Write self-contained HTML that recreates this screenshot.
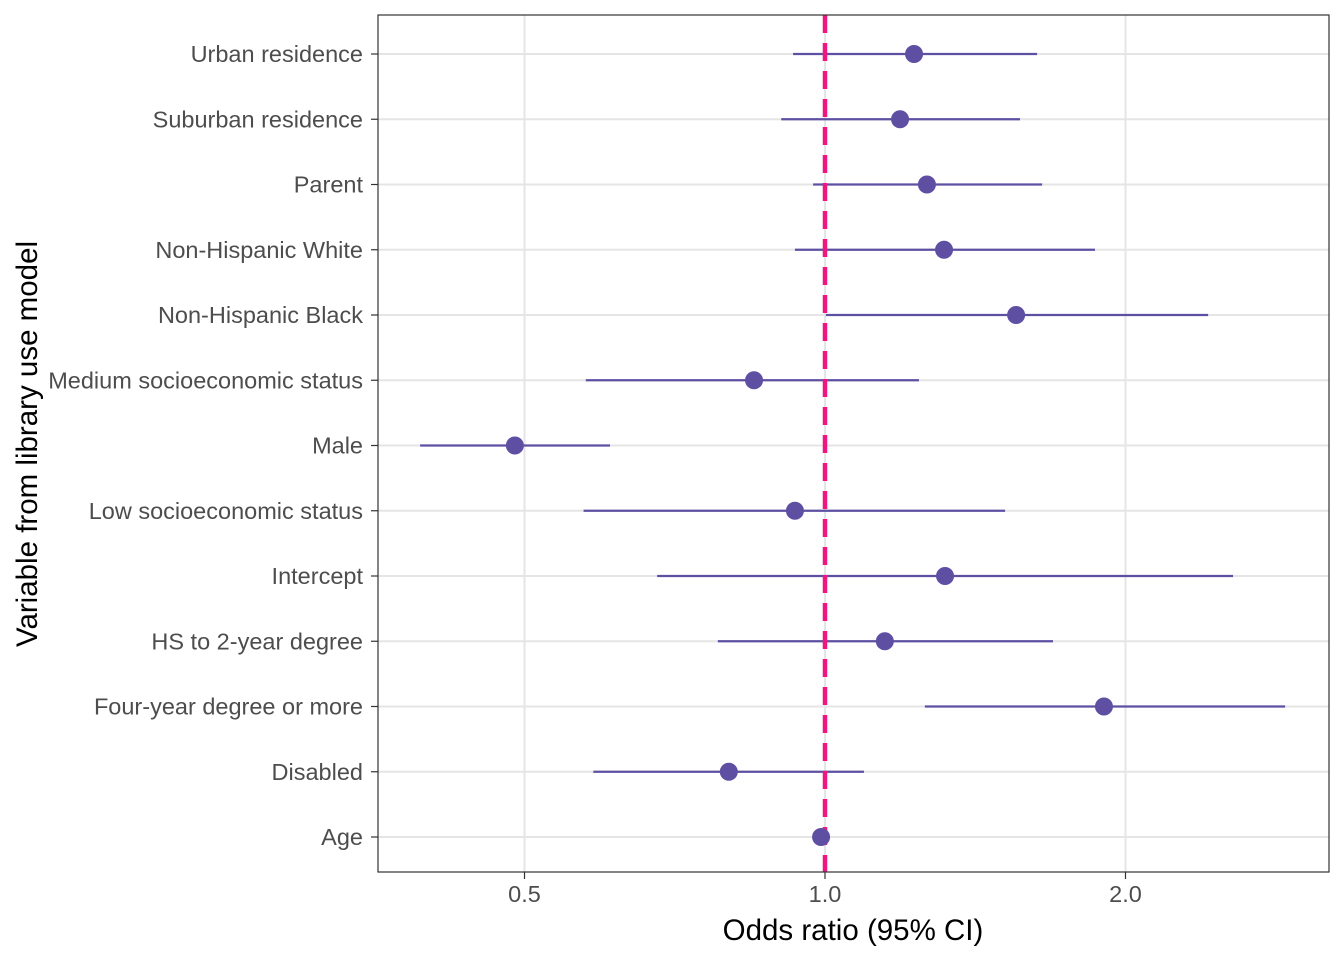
<!DOCTYPE html>
<html><head><meta charset="utf-8"><style>
body{margin:0;background:#fff;}
svg{display:block;font-family:"Liberation Sans",Arial,sans-serif;}
</style></head><body>
<svg id="chart" width="1344" height="960" xmlns="http://www.w3.org/2000/svg">
<rect x="0" y="0" width="1344" height="960" fill="#fff"/>
<g id="grid"></g>
<g id="marks"></g>
<rect x="378" y="15" width="951" height="857" fill="none" stroke="#333" stroke-width="1.2"/>
<g id="axes"></g>
<text x="853" y="940" font-size="29.5" text-anchor="middle" fill="#000">Odds ratio (95% CI)</text>
<text transform="translate(37,444) rotate(-90)" font-size="29.5" text-anchor="middle" fill="#000">Variable from library use model</text>
</svg>
<script>
const categories=["Urban residence","Suburban residence","Parent","Non-Hispanic White","Non-Hispanic Black","Medium socioeconomic status","Male","Low socioeconomic status","Intercept","HS to 2-year degree","Four-year degree or more","Disabled","Age"];
const estimates=[1.228,1.189,1.265,1.316,1.554,0.849,0.489,0.933,1.319,1.148,1.903,0.801,0.991];
const lowerCI=[0.929,0.904,0.973,0.933,1.002,0.576,0.393,0.573,0.679,0.781,1.259,0.586,0.982];
const upperCI=[1.631,1.568,1.65,1.864,2.42,1.242,0.609,1.515,2.563,1.692,2.89,1.094,1.0];
const xTicks=[0.5,1.0,2.0];
const xTickLabels=["0.5","1.0","2.0"];
const refValue=1;
const NS="http://www.w3.org/2000/svg";
const x=v=>825+300.5*Math.log2(v);
const y=i=>54+i*65.25;
function mk(tag,attrs,parent){const e=document.createElementNS(NS,tag);for(const k in attrs)e.setAttribute(k,attrs[k]);parent.appendChild(e);return e;}
const grid=document.getElementById('grid'),marks=document.getElementById('marks'),axes=document.getElementById('axes');
xTicks.forEach((t,i)=>{
 const g=mk('line',{x1:x(t),x2:x(t),y1:15,y2:872,stroke:'#e5e5e5','stroke-width':2},grid);
 
 
 const tk=mk('line',{x1:x(t),x2:x(t),y1:872,y2:879,stroke:'#333','stroke-width':1.2},axes);
 
 
 const tl=mk('text',{x:x(t),y:902,'font-size':23.5,'text-anchor':'middle',fill:'#4d4d4d'},axes);
 tl.textContent=xTickLabels[i];
 
 
});
categories.forEach((c,i)=>{
 const g=mk('line',{x1:378,x2:1329,y1:y(i),y2:y(i),stroke:'#e5e5e5','stroke-width':2},grid);
 
 
 const tk=mk('line',{x1:371,x2:378,y1:y(i),y2:y(i),stroke:'#333','stroke-width':1.2},axes);
 
 
 const tl=mk('text',{x:363,y:y(i)+8,'font-size':23.5,'text-anchor':'end',fill:'#4d4d4d'},axes);
 tl.textContent=c;
 
 
});
categories.forEach((c,i)=>{
 const l=mk('line',{x1:x(lowerCI[i]),x2:x(upperCI[i]),y1:y(i),y2:y(i),stroke:'#5e4fa2','stroke-width':2.2},marks);
 
 
});
const ref=mk('line',{x1:x(refValue),x2:x(refValue),y1:15,y2:872,stroke:'#f0157f','stroke-width':4.5,'stroke-dasharray':'18,10'},marks);


categories.forEach((c,i)=>{
 const p=mk('circle',{cx:x(estimates[i]),cy:y(i),r:9,fill:'#5e4fa2'},marks);
 
 
});
</script>
</body></html>
